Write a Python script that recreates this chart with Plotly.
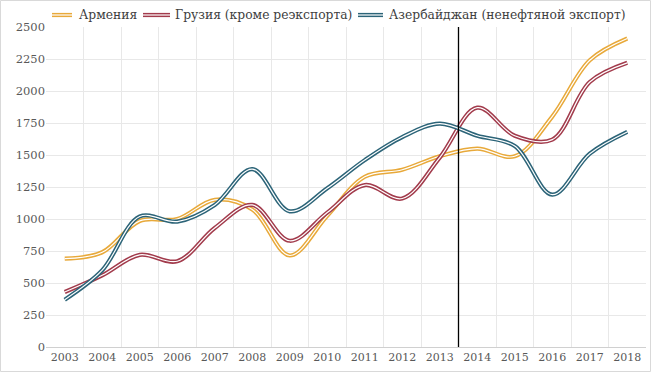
import plotly.graph_objects as go

years = [str(y) for y in range(2003, 2019)]
armenia = [690, 740, 985, 1000, 1150, 1075, 715, 1025, 1330, 1385, 1490, 1550, 1490, 1800, 2240, 2410]
georgia = [430, 560, 720, 670, 930, 1110, 830, 1050, 1265, 1160, 1480, 1870, 1650, 1620, 2070, 2220]
azerbaijan = [370, 600, 1020, 980, 1110, 1390, 1060, 1240, 1460, 1640, 1745, 1650, 1570, 1190, 1510, 1680]

names = ["Армения", "Грузия (кроме реэкспорта)", "Азербайджан (ненефтяной экспорт)"]
colors = ["#E8A93A", "#A23B4C", "#2C6478"]
series = [armenia, georgia, azerbaijan]

font = "DejaVu Serif"
fig = go.Figure()
for name, col, vals in zip(names, colors, series):
    fig.add_trace(go.Scatter(x=years, y=vals, name=name, mode="lines",
                             line=dict(color=col, width=4.2, shape="spline", smoothing=1.0)))
    fig.add_trace(go.Scatter(x=years, y=vals, name=name, mode="lines", hoverinfo="skip",
                             line=dict(color="white", width=1.2, shape="spline", smoothing=1.0)))


def px_x(p):
    return (p - 46) / 600


def px_y(p):
    return (347 - p) / 320


# manual legend (double-line icons like the original)
legend_icons = [(52, 72), (143, 170), (358, 383)]
legend_text_x = [77, 173, 387]
ly = px_y(15)
for (a, b), tx, name, col in zip(legend_icons, legend_text_x, names, colors):
    fig.add_shape(type="line", xref="paper", yref="paper", x0=px_x(a), x1=px_x(b), y0=ly, y1=ly,
                  line=dict(color=col, width=4.2))
    fig.add_shape(type="line", xref="paper", yref="paper", x0=px_x(a), x1=px_x(b), y0=ly, y1=ly,
                  line=dict(color="white", width=1.2))
    fig.add_annotation(text=name, xref="paper", yref="paper", x=px_x(tx), y=ly,
                       xanchor="left", yanchor="middle", showarrow=False,
                       font=dict(family=font, size=12.3, color="#404040"))

fig.add_shape(type="line", xref="x", yref="paper", x0=10.5, x1=10.5, y0=0, y1=1,
              line=dict(color="black", width=1.3))
fig.add_shape(type="rect", xref="paper", yref="paper",
              x0=px_x(0.5), x1=px_x(650.5), y0=px_y(371.5), y1=px_y(0.5),
              line=dict(color="#d9d9d9", width=1))

fig.update_layout(
    width=651, height=372,
    margin=dict(l=46, r=5, t=27, b=25, autoexpand=False),
    paper_bgcolor="white", plot_bgcolor="white",
    font=dict(family=font, size=11, color="#595959"),
    showlegend=False,
)
fig.update_xaxes(type="category", tickson="boundaries", showgrid=True, gridcolor="#e8e8e8",
                 showline=True, linecolor="#d0d0d0", ticks="", tickfont=dict(size=11),
                 range=[-0.5, 15.5], automargin=False)
fig.update_yaxes(range=[0, 2500], tickvals=list(range(0, 2501, 250)), showgrid=True,
                 gridcolor="#e8e8e8", zeroline=False, ticks="", showline=False,
                 tickfont=dict(size=11.5), automargin=False)

fig.write_html("out.html", config={"displayModeBar": False},
               post_script="document.body.style.margin='0';")
